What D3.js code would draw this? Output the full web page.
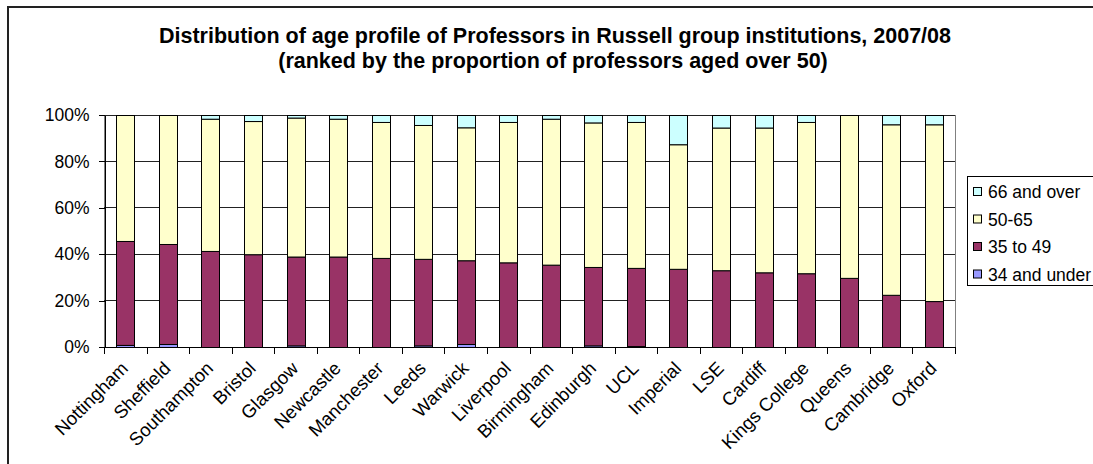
<!DOCTYPE html>
<html lang="en">
<head>
    <meta charset="UTF-8">
    <title>Age profile of Professors</title>
    <script src="https://d3js.org/d3.v7.min.js"></script>
    <style>
        body {
            margin: 0;
            background: #fff;
            font-family: 'Liberation Sans', Arial, sans-serif;
        }
        .title {
            font-size: 21.5px;
            font-weight: bold;
            text-anchor: middle;
        }
        .axis text {
            font-size: 17.5px;
            fill: #000;
        }
        .axis .xlabel {
            font-size: 18.5px;
        }
        .axis path,
        .axis line {
            stroke: #000;
            shape-rendering: crispEdges;
        }
        .grid line {
            stroke: #222;
            shape-rendering: crispEdges;
        }
        .legend text {
            font-size: 17.5px;
        }
    </style>
</head>
<body>
    <svg width="1093" height="464"></svg>
    <script>
        // Data
        const institutions = ["Nottingham", "Sheffield", "Southampton", "Bristol", "Glasgow", "Newcastle",
            "Manchester", "Leeds", "Warwick", "Liverpool", "Birmingham", "Edinburgh", "UCL", "Imperial",
            "LSE", "Cardiff", "Kings College", "Queens", "Cambridge", "Oxford"];
        const under34 = [0.9, 1.3, 0, 0, 0.7, 0, 0, 0.7, 1.3, 0, 0, 0.7, 0.4, 0, 0, 0, 0, 0, 0, 0];
        const age35to49 = [44.8, 43.1, 41.4, 40.0, 38.3, 39.0, 38.4, 37.3, 36.1, 36.5, 35.5, 33.8, 33.7,
            33.7, 33.1, 32.2, 31.8, 29.8, 22.5, 19.8];
        const age50to65 = [54.3, 55.6, 57.0, 57.4, 59.9, 59.4, 58.6, 57.7, 57.3, 60.5, 62.9, 62.3, 62.9,
            53.7, 61.5, 62.4, 65.2, 70.2, 73.5, 76.2];
        const over66 = [0, 0, 1.6, 2.6, 1.1, 1.6, 3.0, 4.3, 5.3, 3.0, 1.6, 3.2, 3.0, 12.6, 5.4, 5.4, 3.0,
            0, 4.0, 4.0];
        const seriesNames = ["34 and under", "35 to 49", "50-65", "66 and over"];
        const seriesColors = ["#9999ff", "#993366", "#ffffcc", "#ccffff"];
        const yTicks = [0, 20, 40, 60, 80, 100];

        const svg = d3.select("svg");

        // Plot area
        const plot = { left: 104, right: 955, top: 115, bottom: 347 };

        // Outer chart frame
        svg.append("rect")
            .attr("x", 8).attr("y", 7)
            .attr("width", 1100).attr("height", 470)
            .attr("fill", "none")
            .attr("stroke", "#222")
            .attr("stroke-width", 2);

        // Title
        svg.append("text").attr("class", "title")
            .attr("x", 555).attr("y", 43)
            .text("Distribution of age profile of Professors in Russell group institutions, 2007/08");
        svg.append("text").attr("class", "title")
            .attr("x", 553).attr("y", 68)
            .text("(ranked by the proportion of professors aged over 50)");

        const x = d3.scaleBand()
            .domain(institutions)
            .range([plot.left, plot.right])
            .paddingInner(0.58)
            .paddingOuter(0.29);

        const y = d3.scaleLinear()
            .domain([0, 100])
            .range([plot.bottom, plot.top]);

        // Build rows for the stack
        const rows = institutions.map((name, i) => ({
            name: name,
            "34 and under": under34[i],
            "35 to 49": age35to49[i],
            "50-65": age50to65[i],
            "66 and over": over66[i]
        }));
        const stacked = d3.stack().keys(seriesNames)(rows);

        // Plot area border
        svg.append("rect")
            .attr("x", plot.left + 0.5).attr("y", plot.top + 0.5)
            .attr("width", plot.right - plot.left).attr("height", plot.bottom - plot.top)
            .attr("fill", "#fff")
            .attr("stroke", "#808080");

        // Gridlines
        svg.append("g")
            .attr("class", "grid")
            .selectAll("line")
            .data(yTicks.filter(d => d > 0))
            .enter().append("line")
            .attr("x1", plot.left).attr("x2", plot.right)
            .attr("y1", d => y(d)).attr("y2", d => y(d));

        // Bars
        svg.append("g")
            .selectAll("g")
            .data(stacked)
            .enter().append("g")
            .attr("fill", (d, i) => seriesColors[i])
            .selectAll("rect")
            .data(d => d.filter(p => p[1] - p[0] > 0))
            .enter().append("rect")
            .attr("x", d => Math.round(x(d.data.name)) + 0.5)
            .attr("y", d => y(d[1]) + 0.5)
            .attr("width", Math.round(x.bandwidth()))
            .attr("height", d => y(d[0]) - y(d[1]))
            .attr("stroke", "#000")
            .attr("stroke-width", 1);

        // Y axis
        svg.append("g")
            .attr("class", "axis")
            .attr("transform", `translate(${plot.left + 0.5},0)`)
            .call(d3.axisLeft(y).tickValues(yTicks).tickFormat(d => d + "%")
                .tickSizeInner(6).tickSizeOuter(0).tickPadding(9));

        // X axis: ticks at category boundaries
        const xAxis = svg.append("g")
            .attr("class", "axis")
            .attr("transform", `translate(0,${plot.bottom + 0.5})`);
        xAxis.append("line")
            .attr("x1", plot.left).attr("x2", plot.right + 1)
            .attr("y1", 0).attr("y2", 0);
        xAxis.selectAll(".tick")
            .data(d3.range(institutions.length + 1))
            .enter().append("line")
            .attr("x1", i => Math.round(plot.left + i * x.step()) + 0.5)
            .attr("x2", i => Math.round(plot.left + i * x.step()) + 0.5)
            .attr("y1", 0).attr("y2", 6);
        xAxis.selectAll(".xlabel")
            .data(institutions)
            .enter().append("text")
            .attr("class", "xlabel")
            .attr("text-anchor", "end")
            .attr("transform", d => `translate(${x(d) + x.bandwidth() / 2 + 4},${22}) rotate(-45)`)
            .text(d => d);

        // Legend
        const legend = svg.append("g").attr("class", "legend");
        legend.append("rect")
            .attr("x", 967.5).attr("y", 176.5)
            .attr("width", 140).attr("height", 109)
            .attr("fill", "#fff")
            .attr("stroke", "#000");
        const legendOrder = seriesNames.slice().reverse();
        const legendItems = legend.selectAll(".item")
            .data(legendOrder)
            .enter().append("g")
            .attr("transform", (d, i) => `translate(973,${192 + i * 27.5})`);
        legendItems.append("rect")
            .attr("x", 0.5).attr("y", -4.5)
            .attr("width", 8).attr("height", 8)
            .attr("fill", d => seriesColors[seriesNames.indexOf(d)])
            .attr("stroke", "#000");
        legendItems.append("text")
            .attr("x", 15).attr("y", 6)
            .text(d => d);
    </script>
</body>
</html>
